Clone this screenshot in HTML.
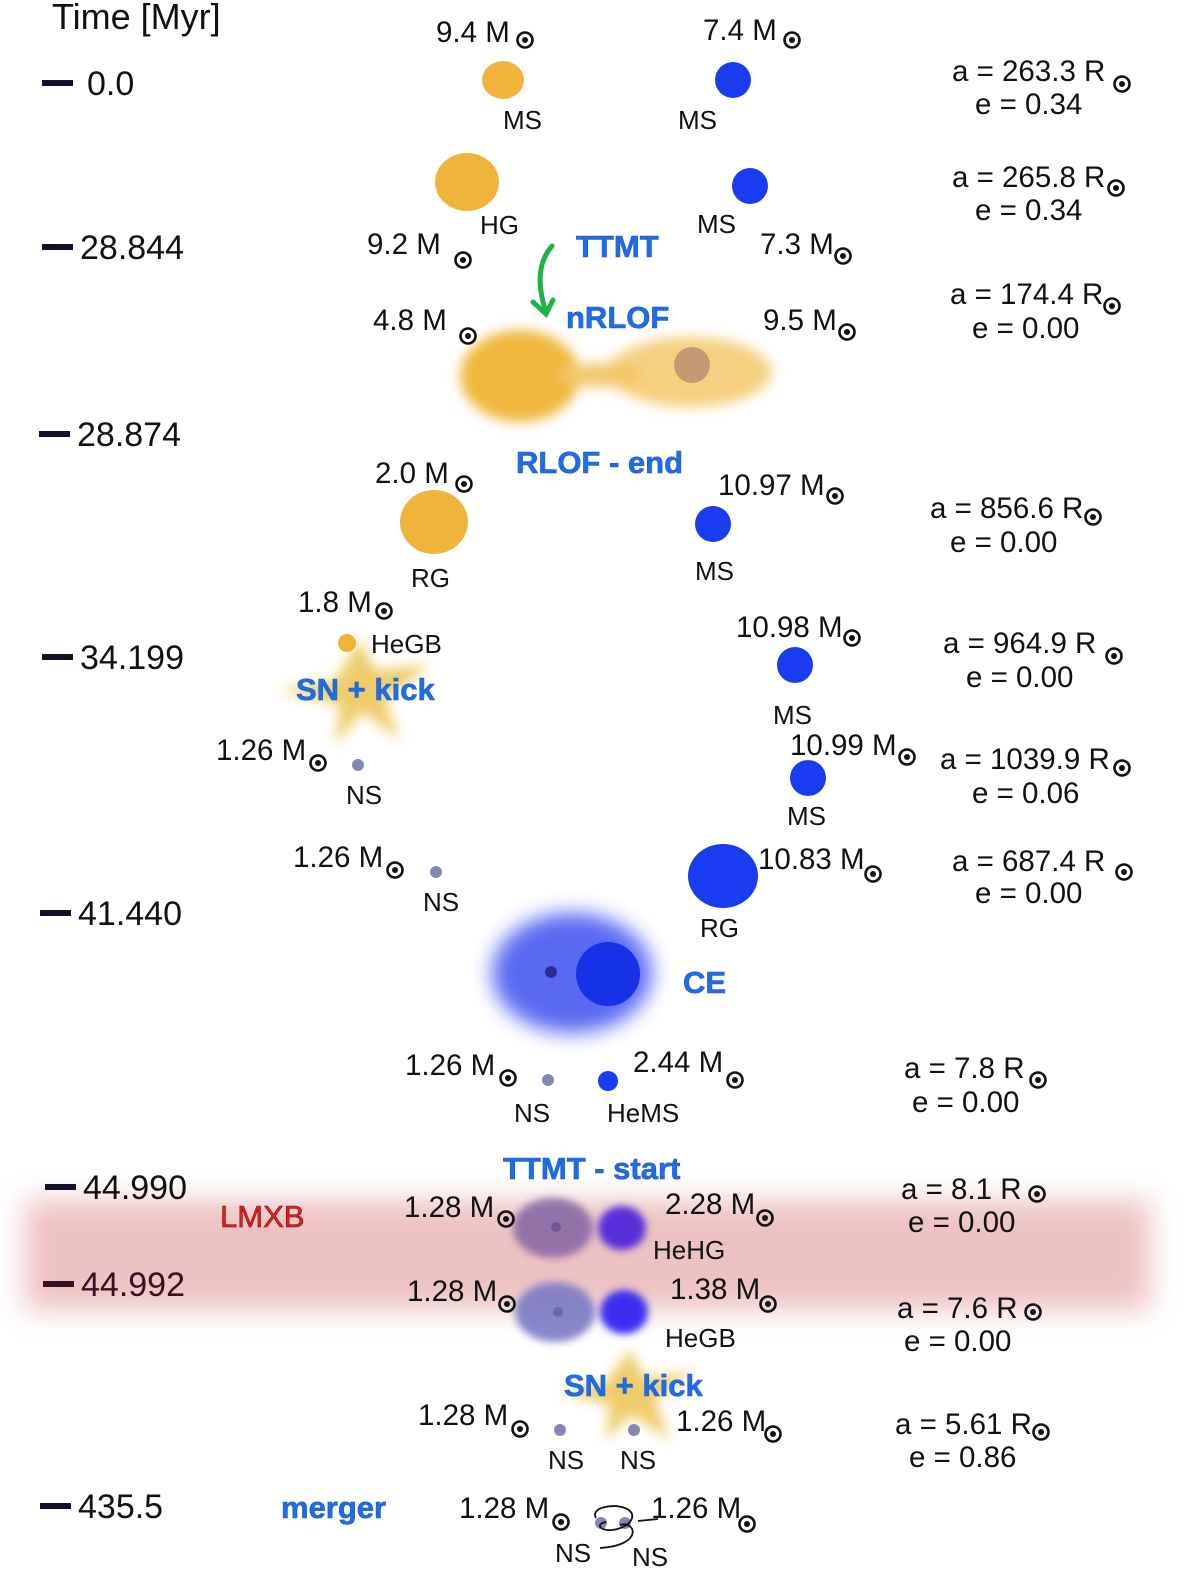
<!DOCTYPE html>
<html><head><meta charset="utf-8">
<style>
html,body{margin:0;padding:0;background:#fff;}
svg{display:block;}
text{font-family:"Liberation Sans",Arial,sans-serif;}
.t{fill:#111;}
.tk{font-size:34px;fill:#111;}
.b{font-size:31px;font-weight:bold;fill:#1a6fe6;stroke:#2b55c9;stroke-width:0.6;}
</style></head>
<body>
<svg id="fig" width="1200" height="1579" viewBox="0 0 1200 1579" xmlns="http://www.w3.org/2000/svg">
<defs>
<filter id="bl6" x="-50%" y="-50%" width="200%" height="200%"><feGaussianBlur stdDeviation="6"/></filter>
<filter id="bl10" x="-50%" y="-50%" width="200%" height="200%"><feGaussianBlur stdDeviation="10"/></filter>
<filter id="bl4" x="-50%" y="-50%" width="200%" height="200%"><feGaussianBlur stdDeviation="4"/></filter>
<filter id="bl14" x="-20%" y="-80%" width="140%" height="260%"><feGaussianBlur stdDeviation="14"/></filter>
</defs>

<rect x="25" y="1200" width="1125" height="110" fill="#e9b3b3" opacity="0.8" filter="url(#bl14)"/>

<g filter="url(#bl6)">
<ellipse cx="520" cy="376" rx="60" ry="46" fill="#f0b83c"/>
<ellipse cx="600" cy="375" rx="40" ry="12" fill="#f2c870"/>
<ellipse cx="690" cy="372" rx="82" ry="35" fill="#f3c460" opacity="0.8"/>
</g>
<circle cx="692" cy="365" r="18" fill="#c49a72"/>

<g>
<ellipse cx="572" cy="973" rx="80" ry="60" fill="#3a4ff0" opacity="0.85" filter="url(#bl10)"/>
<circle cx="608" cy="974" r="32" fill="#1532e6"/>
<circle cx="551" cy="972" r="6" fill="#2a2d90"/>
</g>

<g filter="url(#bl6)" opacity="0.85">
<polygon points="360,640 375,670 430,665 385,700 400,740 362,712 335,745 340,705 280,690 335,680" fill="#ecc451"/>
</g>
<g filter="url(#bl6)" opacity="0.85">
<polygon points="630,1350 645,1378 695,1372 655,1400 670,1440 632,1415 605,1440 610,1405 560,1392 605,1383" fill="#ecc451"/>
</g>

<g>
<ellipse cx="553" cy="1228" rx="40" ry="30" fill="#8a6aa8" opacity="0.9" filter="url(#bl4)"/>
<circle cx="556" cy="1227" r="5" fill="#6f5792"/>
<ellipse cx="622" cy="1228" rx="24" ry="22" fill="#5a2fd8" filter="url(#bl4)"/>
</g>
<g>
<ellipse cx="555" cy="1312" rx="40" ry="30" fill="#7a7ac4" opacity="0.9" filter="url(#bl4)"/>
<circle cx="558" cy="1312" r="5" fill="#6a6a9c"/>
<ellipse cx="624" cy="1312" rx="24" ry="22" fill="#3a2ef0" filter="url(#bl4)"/>
</g>

<ellipse cx="503" cy="80" rx="21" ry="19" fill="#f0b43c"/>
<circle cx="733" cy="80" r="18" fill="#1a3cf0"/>
<ellipse cx="467" cy="182" rx="32" ry="29" fill="#f0b43c"/>
<circle cx="750" cy="186" r="18" fill="#1a3cf0"/>
<ellipse cx="434" cy="522" rx="34" ry="32" fill="#f0b43c"/>
<circle cx="713" cy="524" r="18" fill="#1a3cf0"/>
<circle cx="347" cy="643" r="9" fill="#f0b43c"/>
<circle cx="795" cy="665" r="18" fill="#1a3cf0"/>
<circle cx="358" cy="765" r="6" fill="#8488b0"/>
<circle cx="808" cy="778" r="18" fill="#1a3cf0"/>
<circle cx="436" cy="872" r="6" fill="#8488b0"/>
<ellipse cx="723" cy="876" rx="35" ry="32" fill="#1a3cf0"/>
<circle cx="548" cy="1080" r="6" fill="#8488b0"/>
<circle cx="608" cy="1081" r="10" fill="#1a3cf0"/>
<circle cx="560" cy="1430" r="6" fill="#8488b0"/>
<circle cx="634" cy="1430" r="6" fill="#8488b0"/>
<circle cx="601" cy="1523" r="6" fill="#8488b0"/>
<circle cx="625" cy="1523" r="6" fill="#8488b0"/>
<path d="M596,1518 C590,1508 612,1503 625,1508 C640,1514 630,1528 612,1530 C600,1531 595,1524 606,1522 M620,1525 C635,1520 645,1545 600,1548 M638,1521 L658,1519" fill="none" stroke="#111" stroke-width="1.8"/>

<g stroke="#1db347" stroke-width="5" fill="none" stroke-linecap="round">
<path d="M552,246 C538,262 537,285 546,312"/>
<path d="M533,302 L546,314 L553,300"/>
</g>

<g id="ticks"></g>
<g id="labels"></g>
<g id="suns"></g>
</svg>
<script>
const NS="http://www.w3.org/2000/svg";
const tickLabels=["0.0","28.844","28.874","34.199","41.440","44.990","44.992","435.5"];
const tickY=[83,247,434,657,913,1187,1284,1506];
const tickX=[42,42,39,42,40,45,43,40];
const tg=document.getElementById('ticks');
for(let i=0;i<tickLabels.length;i++){
  const r=document.createElementNS(NS,'rect');
  r.setAttribute('x',tickX[i]);r.setAttribute('y',tickY[i]-3);r.setAttribute('width',31);r.setAttribute('height',6);r.setAttribute('fill',i==6?'#3a1020':'#111128');
  
  
  tg.appendChild(r);
  const t=document.createElementNS(NS,'text');
  t.setAttribute('x',tickX[i]+(i==0?45:38));t.setAttribute('y',tickY[i]+12);t.setAttribute('class','tk');
  if(i==6)t.setAttribute('style','fill:#3a1020');
  t.textContent=tickLabels[i];
  
  
  tg.appendChild(t);
}
const labels=[
["Time [Myr]",52,29,"t",36],
["9.4 M",436,42,"t"],["MS",503,129,"t",26],["7.4 M",703,40,"t"],["MS",678,129,"t",26],
["a = 263.3 R",952,81,"t"],["e = 0.34",975,114,"t"],
["HG",480,234,"t",26],["MS",697,233,"t",26],["9.2 M",367,254,"t"],["7.3 M",760,254,"t"],["TTMT",576,257,"b"],
["a = 265.8 R",952,187,"t"],["e = 0.34",975,220,"t"],
["4.8 M",373,330,"t"],["nRLOF",566,328,"b"],["9.5 M",763,330,"t"],["a = 174.4 R",950,304,"t"],["e = 0.00",972,338,"t"],
["RLOF - end",516,473,"b"],
["2.0 M",375,483,"t"],["RG",411,587,"t",26],["10.97 M",718,495,"t"],["MS",695,580,"t",26],
["a = 856.6 R",930,518,"t"],["e = 0.00",950,552,"t"],
["1.8 M",298,612,"t"],["HeGB",371,653,"t",26],["10.98 M",736,637,"t"],["MS",773,724,"t",26],
["a = 964.9 R",943,653,"t"],["e = 0.00",966,687,"t"],
["SN + kick",296,700,"b"],
["1.26 M",216,760,"t"],["NS",346,804,"t",26],["10.99 M",790,755,"t"],["MS",787,825,"t",26],
["a = 1039.9 R",940,769,"t"],["e = 0.06",972,803,"t"],
["1.26 M",293,867,"t"],["NS",423,911,"t",26],["10.83 M",758,869,"t"],["RG",700,937,"t",26],
["a = 687.4 R",952,871,"t"],["e = 0.00",975,903,"t"],
["CE",683,993,"b"],
["1.26 M",405,1075,"t"],["NS",514,1122,"t",26],["2.44 M",633,1072,"t"],["HeMS",607,1122,"t",26],
["a = 7.8 R",904,1078,"t"],["e = 0.00",912,1112,"t"],
["TTMT - start",503,1179,"b"],
["1.28 M",404,1217,"t"],["2.28 M",665,1214,"t"],["HeHG",653,1259,"t",26],["a = 8.1 R",901,1199,"t"],["e = 0.00",908,1232,"t"],
["1.28 M",407,1301,"t"],["1.38 M",670,1299,"t"],["HeGB",665,1347,"t",26],["a = 7.6 R",897,1318,"t"],["e = 0.00",904,1351,"t"],
["SN + kick",564,1396,"b"],
["1.28 M",418,1425,"t"],["NS",548,1469,"t",26],["NS",620,1469,"t",26],["1.26 M",676,1431,"t"],
["a = 5.61 R",895,1434,"t"],["e = 0.86",909,1467,"t"],
["merger",281,1518,"b"],["1.28 M",459,1518,"t"],["1.26 M",651,1518,"t"],["NS",555,1562,"t",26],["NS",632,1566,"t",26]
];
const lg=document.getElementById('labels');
for(const L of labels){
  const t=document.createElementNS(NS,'text');
  t.setAttribute('x',L[1]);t.setAttribute('y',L[2]);t.setAttribute('class',L[3]);
  if(L[3]=='t')t.setAttribute('style','font-size:'+(L[4]||29.5)+'px');
  t.textContent=L[0];
  
  
  lg.appendChild(t);
}
{
  const t=document.createElementNS(NS,'text');
  t.setAttribute('x',220);t.setAttribute('y',1227);
  t.setAttribute('style','font-size:31px;fill:#e02020;stroke:#801010;stroke-width:0.6');
  t.textContent="LMXB";
  
  
  lg.appendChild(t);
}
const sunX=[525,792,1122,463,843,1116,468,847,1112,464,835,1093,384,852,1114,318,907,1122,395,873,1124,508,735,1038,506,765,1037,507,768,1033,520,773,1041,561,747];
const sunY=[40,40,84,260,256,188,336,332,306,484,496,517,611,638,656,763,757,768,870,874,872,1078,1080,1080,1219,1218,1194,1304,1304,1312,1429,1434,1432,1522,1524];
const sg=document.getElementById('suns');
for(let i=0;i<sunX.length;i++){
  const g=document.createElementNS(NS,'g');
  
  
  const c=document.createElementNS(NS,'circle');
  c.setAttribute('cx',sunX[i]);c.setAttribute('cy',sunY[i]);c.setAttribute('r',7.5);c.setAttribute('fill','none');c.setAttribute('stroke','#111');c.setAttribute('stroke-width',2.6);
  const d=document.createElementNS(NS,'circle');
  d.setAttribute('cx',sunX[i]);d.setAttribute('cy',sunY[i]);d.setAttribute('r',3);d.setAttribute('fill','#111');
  g.appendChild(c);g.appendChild(d);sg.appendChild(g);
}
</script>
</body></html>
